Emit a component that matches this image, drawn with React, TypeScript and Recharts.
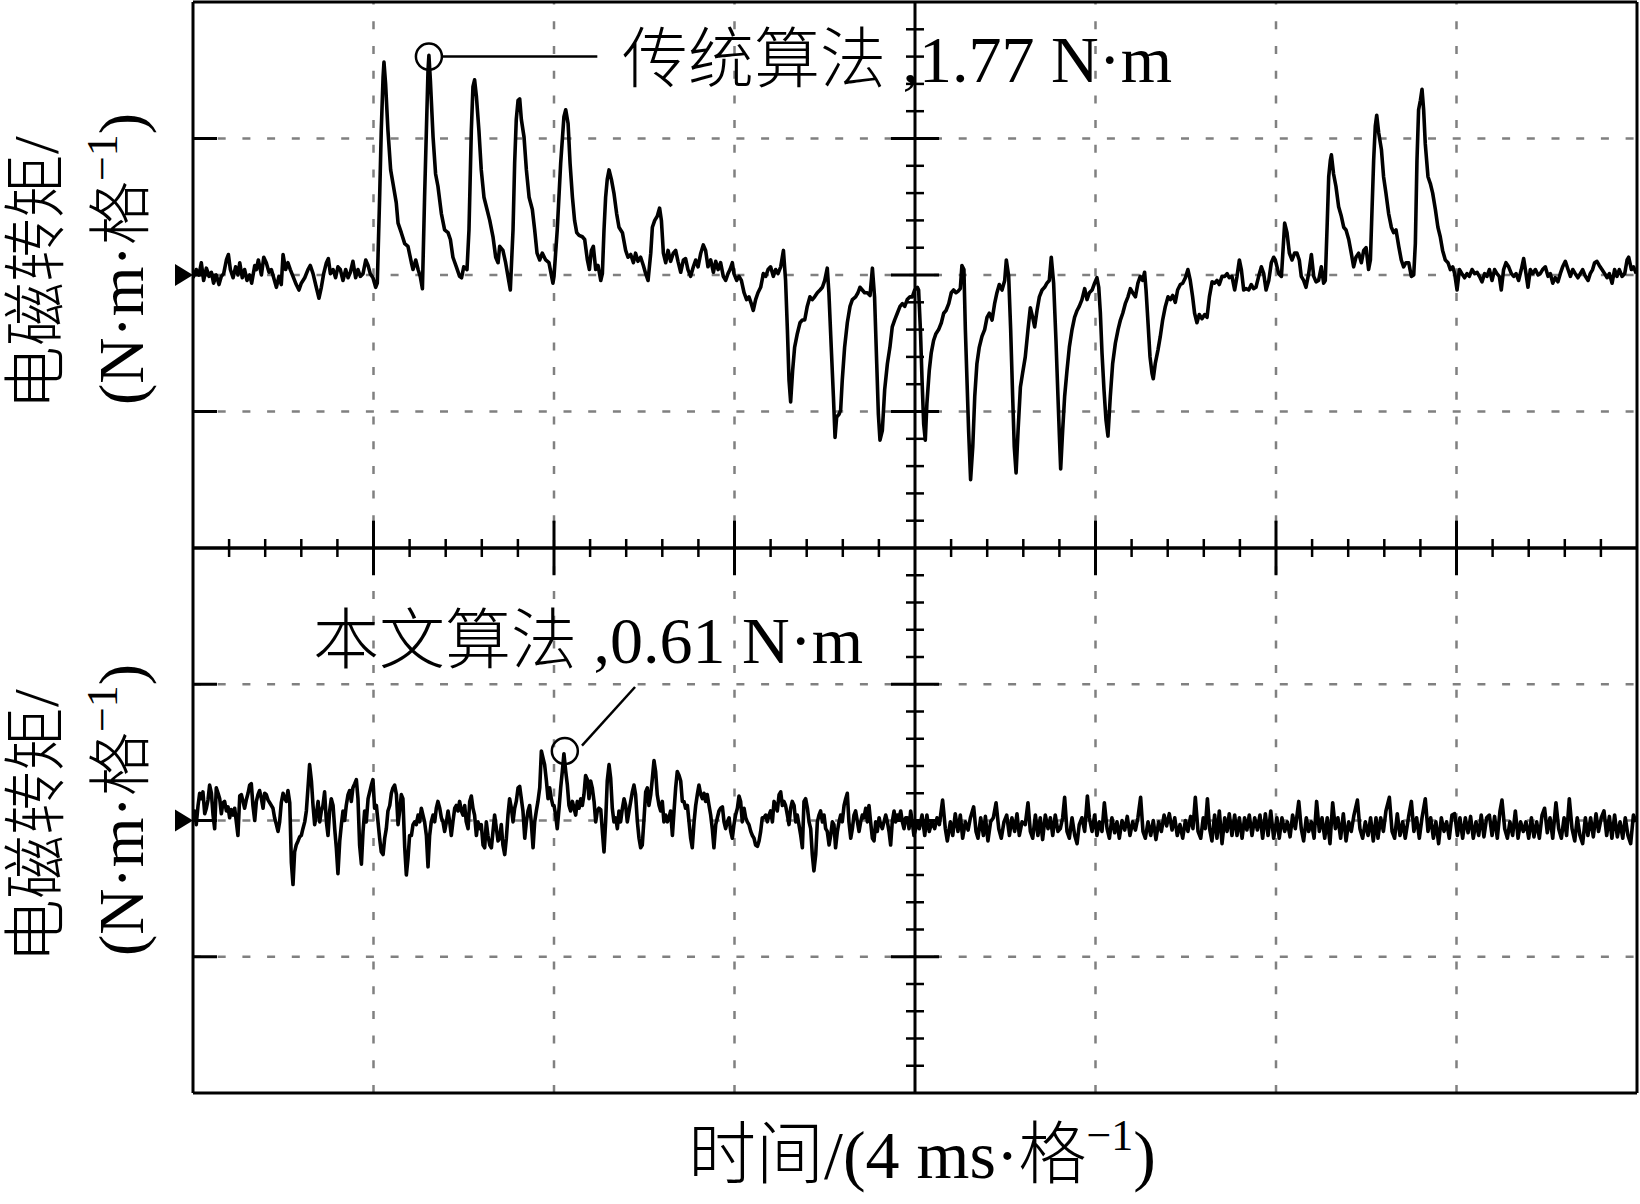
import React from 'react';
import { LineChart, Line, XAxis, YAxis, ReferenceLine, ReferenceDot } from 'recharts';

type Pt = [number, number];

// time in divisions (4 ms / div), torque in divisions
const topSeg1: Pt[] = [[0,-0.02],[0.018,0.04],[0.033,0],[0.046,0.09],[0.059,-0.04],[0.074,0.05],[0.089,-0.01],[0.102,0.02],[0.114,-0.06],[0.129,0],[0.144,-0.07],[0.157,-0.01],[0.17,0.01],[0.185,0.11],[0.196,0.15],[0.207,0.04],[0.222,-0.02],[0.236,0.06],[0.249,0],[0.259,0.09],[0.273,-0.02],[0.286,0.04],[0.299,-0.04],[0.314,0],[0.325,-0.06],[0.342,0.07],[0.351,0.04],[0.362,0.11],[0.379,0],[0.392,0.13],[0.406,0.09],[0.421,0.02],[0.434,0.04],[0.447,-0.02],[0.462,-0.09],[0.476,-0.01],[0.489,-0.07],[0.499,0.15],[0.513,0.04],[0.526,0.09],[0.539,0.04],[0.554,-0.01],[0.572,-0.07],[0.587,-0.11],[0.6,-0.06],[0.619,-0.02],[0.637,0.04],[0.65,0.07],[0.665,0.01],[0.683,-0.09],[0.698,-0.17],[0.711,-0.09],[0.724,0.01],[0.739,0.09],[0.75,0.12],[0.761,0.01],[0.776,0.04],[0.79,-0.02],[0.803,0.06],[0.816,0.04],[0.831,-0.04],[0.846,0.04],[0.859,-0.02],[0.872,0.02],[0.886,0.1],[0.901,-0.02],[0.914,0.04],[0.927,-0.01],[0.942,0.01],[0.957,0.11],[0.97,0.07],[0.982,0.01],[0.997,-0.02],[1.012,-0.09],[1.021,-0.06],[1.034,0.57],[1.043,1.06],[1.053,1.45],[1.058,1.56],[1.067,1.4],[1.08,1.06],[1.095,0.77],[1.108,0.67],[1.126,0.53],[1.136,0.38],[1.154,0.31],[1.173,0.23],[1.191,0.21],[1.21,0.09],[1.219,0.04],[1.234,0.11],[1.247,0.04],[1.259,-0.01],[1.271,-0.1],[1.283,0.57],[1.293,1.06],[1.302,1.5],[1.307,1.61],[1.315,1.43],[1.33,1.01],[1.344,0.74],[1.357,0.65],[1.376,0.45],[1.394,0.33],[1.413,0.31],[1.426,0.26],[1.44,0.13],[1.459,0.06],[1.477,-0.01],[1.488,-0.02],[1.5,0.06],[1.518,0.04],[1.529,0.33],[1.542,1.06],[1.551,1.38],[1.56,1.43],[1.57,1.31],[1.584,1.06],[1.597,0.77],[1.612,0.57],[1.629,0.48],[1.644,0.4],[1.662,0.28],[1.677,0.13],[1.69,0.09],[1.699,0.21],[1.717,0.18],[1.732,0.09],[1.745,-0.01],[1.758,-0.11],[1.773,0.33],[1.782,0.82],[1.791,1.14],[1.801,1.28],[1.81,1.29],[1.819,1.14],[1.834,1.01],[1.847,0.77],[1.862,0.57],[1.88,0.48],[1.893,0.33],[1.906,0.16],[1.921,0.11],[1.935,0.16],[1.954,0.11],[1.972,0.09],[1.994,-0.06]];

const topSeg2: Pt[] = [[2,-0.01],[2.018,0.33],[2.037,0.82],[2.055,1.16],[2.065,1.21],[2.078,1.11],[2.089,0.82],[2.102,0.57],[2.114,0.4],[2.126,0.31],[2.139,0.29],[2.157,0.28],[2.17,0.26],[2.185,0.11],[2.196,0.04],[2.207,0.18],[2.218,0.21],[2.231,0.04],[2.244,0.07],[2.259,-0.04],[2.268,0.01],[2.277,0.33],[2.286,0.57],[2.295,0.7],[2.305,0.77],[2.318,0.7],[2.332,0.6],[2.347,0.45],[2.36,0.35],[2.379,0.31],[2.397,0.18],[2.41,0.13],[2.425,0.15],[2.44,0.09],[2.452,0.16],[2.465,0.1],[2.48,0.13],[2.495,0.07],[2.508,0.01],[2.521,-0.04],[2.536,0.16],[2.545,0.35],[2.558,0.4],[2.572,0.43],[2.585,0.49],[2.595,0.4],[2.606,0.16],[2.619,0.09],[2.632,0.18],[2.646,0.1],[2.661,0.16],[2.674,0.18],[2.687,0.1],[2.702,0.02],[2.717,0.11],[2.729,0.12],[2.742,0.04],[2.757,-0.01],[2.772,0.06],[2.785,0.11],[2.798,0.06],[2.813,0.16],[2.827,0.22],[2.84,0.18],[2.853,0.06],[2.868,0.11],[2.883,0.02],[2.896,0.1],[2.909,0.04],[2.923,0.09],[2.938,-0.01],[2.951,-0.04],[2.964,0.01],[2.975,0.04],[2.988,0.09],[2.997,0.01],[3.012,-0.04],[3.025,-0.01],[3.038,-0.04],[3.053,-0.13],[3.067,-0.18],[3.08,-0.16],[3.093,-0.21],[3.104,-0.26],[3.117,-0.18],[3.13,-0.13],[3.145,-0.09],[3.16,0.01],[3.173,-0.01],[3.186,0.04],[3.2,0.06],[3.215,-0.01],[3.228,0.04],[3.241,0.01],[3.256,0.06],[3.271,0.18],[3.283,-0.04],[3.293,-0.4],[3.302,-0.77],[3.311,-0.93],[3.322,-0.7],[3.333,-0.53],[3.348,-0.43],[3.363,-0.35],[3.376,-0.33],[3.389,-0.33],[3.403,-0.23],[3.418,-0.16],[3.431,-0.18],[3.444,-0.16],[3.459,-0.13],[3.474,-0.11],[3.487,-0.09],[3.5,-0.04],[3.514,0.05],[3.523,-0.13],[3.536,-0.53],[3.548,-0.89],[3.557,-1.19],[3.566,-1.04],[3.579,-1.02],[3.588,-0.99],[3.597,-0.77],[3.61,-0.53],[3.625,-0.35],[3.64,-0.23],[3.653,-0.18],[3.671,-0.16],[3.684,-0.13],[3.695,-0.09],[3.708,-0.11],[3.721,-0.13],[3.736,-0.13],[3.751,-0.15],[3.764,0.05],[3.776,-0.16],[3.788,-0.65],[3.797,-1.02],[3.806,-1.21],[3.819,-1.14],[3.832,-0.84],[3.847,-0.65],[3.861,-0.53],[3.874,-0.38],[3.887,-0.33],[3.902,-0.28],[3.917,-0.23],[3.93,-0.21],[3.943,-0.23],[3.957,-0.18],[3.972,-0.16],[3.985,-0.16],[3.998,-0.11],[4.013,-0.09]];

const topSeg3: Pt[] = [[4.02,-0.11],[4.03,-0.4],[4.039,-0.77],[4.048,-1.09],[4.057,-1.21],[4.066,-0.94],[4.079,-0.7],[4.09,-0.57],[4.103,-0.48],[4.116,-0.43],[4.131,-0.4],[4.146,-0.35],[4.159,-0.28],[4.172,-0.26],[4.187,-0.21],[4.201,-0.13],[4.214,-0.11],[4.227,-0.13],[4.238,-0.12],[4.251,-0.1],[4.26,0.07],[4.271,0.04],[4.279,-0.4],[4.288,-0.77],[4.297,-1.14],[4.308,-1.5],[4.32,-1.26],[4.331,-0.89],[4.343,-0.65],[4.356,-0.53],[4.371,-0.45],[4.386,-0.4],[4.399,-0.31],[4.412,-0.28],[4.427,-0.33],[4.441,-0.21],[4.454,-0.13],[4.467,-0.07],[4.482,-0.11],[4.497,-0.04],[4.506,0.11],[4.519,-0.01],[4.53,-0.4],[4.541,-0.89],[4.55,-1.26],[4.56,-1.45],[4.571,-1.14],[4.584,-0.82],[4.596,-0.72],[4.611,-0.6],[4.626,-0.4],[4.639,-0.24],[4.652,-0.31],[4.663,-0.38],[4.676,-0.26],[4.689,-0.16],[4.704,-0.11],[4.718,-0.09],[4.731,-0.06],[4.744,-0.04],[4.755,0.13],[4.768,-0.06],[4.781,-0.48],[4.792,-0.89],[4.8,-1.18],[4.807,-1.42],[4.818,-1.14],[4.829,-0.89],[4.842,-0.7],[4.855,-0.53],[4.87,-0.4],[4.884,-0.31],[4.898,-0.26],[4.91,-0.23],[4.925,-0.18],[4.94,-0.1],[4.953,-0.18],[4.966,-0.13],[4.981,-0.11],[4.995,-0.06],[5.008,-0.02],[5.018,-0.09],[5.027,-0.28],[5.036,-0.57],[5.047,-0.84],[5.058,-1.06],[5.069,-1.18],[5.082,-0.89],[5.095,-0.65],[5.11,-0.5],[5.125,-0.4],[5.138,-0.33],[5.151,-0.28],[5.165,-0.21],[5.18,-0.16],[5.193,-0.1],[5.206,-0.13],[5.221,-0.16],[5.235,-0.06],[5.248,-0.01],[5.261,-0.04],[5.272,0.02],[5.28,-0.11],[5.291,-0.35],[5.302,-0.6],[5.313,-0.72],[5.32,-0.76],[5.331,-0.65],[5.346,-0.55],[5.359,-0.45],[5.372,-0.33],[5.387,-0.23],[5.402,-0.16],[5.415,-0.18],[5.428,-0.15],[5.442,-0.2],[5.455,-0.11],[5.47,-0.07],[5.483,-0.06],[5.498,-0.02],[5.512,0.04],[5.525,-0.04],[5.538,-0.16],[5.549,-0.28],[5.562,-0.35],[5.575,-0.29],[5.59,-0.32],[5.605,-0.29],[5.618,-0.31],[5.631,-0.16],[5.646,-0.05],[5.66,-0.06],[5.673,-0.04],[5.686,-0.07],[5.701,-0.01],[5.716,-0.01],[5.729,0.01],[5.741,-0.02],[5.756,-0.01],[5.771,-0.11],[5.784,-0.01],[5.797,0.11],[5.808,0.04],[5.821,-0.11],[5.834,-0.1],[5.849,-0.11],[5.863,-0.07],[5.876,-0.1],[5.889,-0.09],[5.904,-0.01],[5.919,0.06],[5.932,0.01],[5.945,-0.11],[5.96,-0.04],[5.974,0.09],[5.987,0.13]];

const topSeg4: Pt[] = [[5.996,0.11],[6.015,0.01],[6.03,-0.01],[6.048,0.38],[6.061,0.31],[6.074,0.16],[6.089,0.11],[6.103,0.16],[6.116,0.16],[6.129,0.11],[6.14,-0.01],[6.153,-0.04],[6.166,-0.09],[6.181,0.01],[6.196,0.15],[6.209,-0.01],[6.222,-0.05],[6.236,-0.04],[6.251,0.06],[6.264,-0.06],[6.273,-0.04],[6.283,0.35],[6.292,0.72],[6.301,0.84],[6.307,0.88],[6.319,0.74],[6.332,0.65],[6.347,0.5],[6.362,0.43],[6.375,0.35],[6.388,0.33],[6.403,0.26],[6.417,0.16],[6.43,0.06],[6.443,0.13],[6.458,0.16],[6.473,0.09],[6.486,0.18],[6.499,0.2],[6.513,0.04],[6.523,0.11],[6.532,0.48],[6.541,0.84],[6.55,1.09],[6.558,1.17],[6.569,1.04],[6.584,0.92],[6.596,0.72],[6.609,0.6],[6.624,0.45],[6.639,0.35],[6.652,0.31],[6.665,0.33],[6.68,0.21],[6.694,0.11],[6.707,0.06],[6.72,0.09],[6.735,0.09],[6.75,-0.01],[6.763,0],[6.772,0.23],[6.781,0.84],[6.79,1.21],[6.8,1.28],[6.809,1.36],[6.818,1.21],[6.827,0.96],[6.842,0.72],[6.855,0.67],[6.868,0.6],[6.883,0.48],[6.897,0.35],[6.91,0.28],[6.923,0.18],[6.938,0.11],[6.953,0.09],[6.966,0.04],[6.979,0.06],[6.99,0.01],[7.003,-0.11],[7.016,0.04],[7.03,0.01],[7.045,-0.02],[7.058,0.01],[7.071,-0.01],[7.086,0.04],[7.101,0.01],[7.114,0.02],[7.127,-0.01],[7.141,-0.05],[7.156,0.01],[7.169,-0.01],[7.182,0.04],[7.197,-0.04],[7.211,0.04],[7.224,0.01],[7.237,-0.01],[7.248,-0.11],[7.261,0.04],[7.274,0.09],[7.289,0.06],[7.304,0.01],[7.317,-0.01],[7.33,0.01],[7.344,-0.04],[7.359,0.04],[7.372,0.12],[7.385,0.01],[7.396,-0.09],[7.409,0.04],[7.422,0.01],[7.437,0.04],[7.452,0],[7.464,0.01],[7.477,0.04],[7.492,0.06],[7.507,-0.01],[7.52,0.01],[7.533,-0.06],[7.547,-0.02],[7.562,-0.05],[7.575,0.01],[7.588,0.06],[7.603,0.1],[7.618,0.04],[7.631,-0.01],[7.644,0.04],[7.658,0.01],[7.673,-0.02],[7.686,0.01],[7.699,0.04],[7.714,-0.01],[7.729,-0.04],[7.741,0.01],[7.754,0.04],[7.765,0.09],[7.778,0.1],[7.791,0.07],[7.806,0.04],[7.821,0.01],[7.834,-0.02],[7.847,0.01],[7.862,-0.06],[7.876,0.04],[7.889,-0.01],[7.902,0.04],[7.917,-0.01],[7.932,0.01],[7.945,0.11],[7.954,0.13],[7.969,0.04],[7.981,0.06],[7.996,0.01]];

const botSeg1: Pt[] = [[0,-0.01],[0.009,0.07],[0.018,-0.03],[0.028,0.11],[0.037,0.2],[0.046,0.16],[0.055,0.21],[0.065,0.05],[0.074,0.09],[0.083,0.15],[0.092,0.26],[0.102,0.2],[0.111,0.04],[0.12,-0.06],[0.129,0.24],[0.139,0.2],[0.148,0.16],[0.157,0.05],[0.166,0.13],[0.175,0.14],[0.185,0.07],[0.194,0.1],[0.203,0.02],[0.212,0.08],[0.222,0.04],[0.231,0.09],[0.24,-0.01],[0.249,-0.11],[0.259,0.18],[0.268,0.19],[0.277,0.14],[0.286,0.09],[0.295,0.15],[0.305,0.2],[0.314,0.26],[0.323,0.27],[0.332,0.11],[0.342,0],[0.351,0.14],[0.36,0.19],[0.369,0.22],[0.379,0.16],[0.388,0.09],[0.397,0.2],[0.406,0.19],[0.416,0.15],[0.425,0.13],[0.434,0.11],[0.443,0.09],[0.452,0.02],[0.462,-0.03],[0.471,-0.08],[0.48,-0.01],[0.489,0.13],[0.499,0.2],[0.508,0.16],[0.517,0.14],[0.526,0.22],[0.536,0.13],[0.545,-0.31],[0.554,-0.47],[0.563,-0.23],[0.572,-0.18],[0.582,-0.15],[0.591,-0.12],[0.6,-0.11],[0.609,-0.06],[0.619,-0.01],[0.628,0.07],[0.637,0.24],[0.646,0.41],[0.656,0.29],[0.665,0.11],[0.674,-0.03],[0.683,0.04],[0.693,0.14],[0.702,-0.01],[0.711,0.07],[0.72,0.11],[0.729,0.21],[0.739,-0.01],[0.748,-0.11],[0.757,0.07],[0.766,0.16],[0.776,0.11],[0.785,-0.06],[0.794,-0.2],[0.803,-0.39],[0.813,-0.15],[0.822,-0.03],[0.831,0.07],[0.84,0],[0.849,0.11],[0.859,0.19],[0.868,0.22],[0.877,0.14],[0.886,0.24],[0.896,0.27],[0.905,0.3],[0.914,0.16],[0.923,-0.18],[0.933,-0.32],[0.942,-0.08],[0.951,0.07],[0.96,-0.01],[0.97,0.16],[0.979,0.21],[0.988,0.26],[0.997,0.3],[1.006,0.09],[1.016,0.11],[1.025,-0.01],[1.034,-0.13],[1.043,-0.23],[1.053,-0.25],[1.062,-0.13],[1.071,-0.06],[1.08,0.07],[1.09,0.11],[1.099,0.2],[1.108,0.24],[1.117,0.26],[1.127,0.19],[1.136,-0.03],[1.145,0.07],[1.154,0.19],[1.163,0.16],[1.173,-0.2],[1.182,-0.4],[1.191,-0.28],[1.2,-0.11],[1.21,-0.11],[1.219,-0.03],[1.228,-0.01],[1.237,-0.03],[1.247,0.04],[1.256,-0.01],[1.265,0.09],[1.274,0.04],[1.283,-0.01],[1.293,-0.11],[1.302,-0.34],[1.311,-0.11],[1.32,-0.01],[1.33,0.04],[1.339,-0.01],[1.348,0.09],[1.357,0.14],[1.367,0.09],[1.376,0.02],[1.385,-0.01],[1.394,-0.08],[1.404,-0.01],[1.413,0.07],[1.422,-0.01],[1.431,-0.11],[1.44,-0.01],[1.45,0.09],[1.459,0.11],[1.468,0.07],[1.477,0.14],[1.487,0.07],[1.496,0.04],[1.505,0.11],[1.514,-0.01],[1.524,-0.06],[1.533,0.14],[1.542,0.18],[1.551,0.09],[1.56,0.04],[1.57,-0.11],[1.579,-0.01],[1.588,-0.06],[1.597,-0.03],[1.607,-0.18],[1.616,-0.2],[1.625,-0.01],[1.634,-0.11],[1.644,-0.18],[1.653,-0.2],[1.662,-0.08],[1.671,0.04],[1.681,-0.06],[1.69,-0.15],[1.699,-0.13],[1.708,-0.03],[1.717,-0.18],[1.727,-0.25],[1.736,-0.13],[1.745,0.04],[1.754,0.16],[1.764,0.09],[1.773,-0.01],[1.782,0.09],[1.791,0.14],[1.801,0.24],[1.81,0.25],[1.819,0.16],[1.828,0.07],[1.838,-0.13],[1.847,-0.01],[1.856,0.07],[1.865,0.11],[1.874,-0.01],[1.884,-0.2],[1.893,-0.01],[1.902,0.07],[1.911,0.14],[1.921,0.24],[1.93,0.51],[1.939,0.46],[1.948,0.41],[1.958,0.29],[1.967,0.16],[1.976,0.24],[1.985,0.16],[1.994,0.11]];

const botSeg2: Pt[] = [[2,0.11],[2.009,0.04],[2.018,-0.06],[2.028,0.09],[2.037,0.24],[2.046,0.36],[2.055,0.49],[2.065,0.36],[2.074,0.26],[2.083,0.11],[2.092,0.07],[2.102,0.14],[2.111,0.09],[2.12,0.04],[2.129,0.14],[2.139,0.09],[2.148,0.16],[2.157,0.11],[2.166,0.19],[2.175,0.33],[2.185,0.3],[2.194,0.16],[2.203,0.29],[2.212,0.24],[2.222,0.14],[2.231,-0.01],[2.24,0.07],[2.249,0.09],[2.259,0.08],[2.268,-0.08],[2.277,-0.23],[2.286,-0.01],[2.295,0.29],[2.305,0.41],[2.314,0.31],[2.323,0.09],[2.332,-0.01],[2.342,0.02],[2.351,-0.06],[2.36,0.07],[2.369,-0.01],[2.379,0.09],[2.388,0.16],[2.397,0.11],[2.406,-0.01],[2.416,0.07],[2.425,0.14],[2.434,0.21],[2.443,0.26],[2.452,0.19],[2.462,-0.01],[2.471,-0.13],[2.48,-0.2],[2.489,-0.18],[2.499,0.02],[2.508,0.21],[2.517,0.24],[2.526,0.11],[2.536,0.19],[2.545,0.31],[2.554,0.44],[2.563,0.36],[2.572,0.19],[2.582,0.11],[2.591,0.07],[2.6,0.14],[2.609,-0.01],[2.619,0.04],[2.628,-0.01],[2.637,0.02],[2.646,0.07],[2.656,-0.11],[2.665,0.07],[2.674,0.24],[2.683,0.36],[2.693,0.33],[2.702,0.29],[2.711,0.14],[2.72,0.14],[2.729,0.09],[2.739,0.11],[2.748,-0.01],[2.757,-0.13],[2.766,-0.2],[2.776,-0.01],[2.785,0.11],[2.794,0.19],[2.803,0.26],[2.813,0.19],[2.822,0.16],[2.831,0.2],[2.84,0.14],[2.849,0.19],[2.859,0.11],[2.868,0.04],[2.877,-0.06],[2.886,-0.2],[2.896,-0.03],[2.905,0.02],[2.914,0.07],[2.923,0.09],[2.933,0.1],[2.942,-0.01],[2.951,-0.06],[2.96,-0.01],[2.97,0.02],[2.979,-0.08],[2.988,-0.13],[2.997,-0.03],[3.006,0.04],[3.016,0.09],[3.025,0.18],[3.034,0.14],[3.043,-0.01],[3.053,0.09],[3.062,0.02],[3.071,-0.01],[3.08,-0.03],[3.09,-0.08],[3.099,-0.11],[3.108,-0.13],[3.117,-0.18],[3.127,-0.19],[3.136,-0.15],[3.145,-0.08],[3.154,0.02],[3.163,0.02],[3.173,0.04],[3.182,-0.01],[3.191,0.04],[3.2,0.07],[3.21,-0.01],[3.219,0.14],[3.228,0.11],[3.237,0.07],[3.247,0.19],[3.256,0.21],[3.265,0.11],[3.274,0.14],[3.283,0.11],[3.293,0.04],[3.302,-0.03],[3.311,0.09],[3.32,0.14],[3.33,0.11],[3.339,-0.01],[3.348,0.04],[3.357,-0.03],[3.367,-0.11],[3.376,-0.2],[3.385,0.14],[3.394,0.16],[3.404,0.09],[3.413,-0.01],[3.422,-0.06],[3.431,-0.25],[3.44,-0.37],[3.45,-0.25],[3.459,-0.01],[3.468,0.04],[3.477,0.07],[3.487,-0.01],[3.496,0.04],[3.505,-0.06],[3.514,-0.08],[3.524,-0.18],[3.533,-0.11],[3.542,-0.01],[3.551,-0.03],[3.56,-0.2],[3.57,-0.08],[3.579,-0.01],[3.588,0.04],[3.597,-0.01],[3.607,0.11],[3.616,0.16],[3.625,0.2],[3.634,-0.01],[3.644,-0.13],[3.653,-0.06],[3.662,0.04],[3.671,0.07],[3.681,-0.01],[3.69,-0.08],[3.699,-0.01],[3.708,0.04],[3.717,0.02],[3.727,0.09],[3.736,-0.01],[3.745,0.11],[3.754,-0.01],[3.764,-0.13],[3.773,-0.15],[3.782,-0.01],[3.791,-0.08],[3.801,0.02],[3.81,-0.03],[3.819,-0.06],[3.828,-0.01],[3.838,0.04],[3.847,-0.01],[3.856,-0.08],[3.865,-0.18],[3.874,-0.01],[3.884,0.07],[3.893,-0.01],[3.902,0.04],[3.911,0.02],[3.921,0.07],[3.93,-0.01],[3.939,-0.06],[3.948,0.02],[3.958,0.02],[3.967,-0.06],[3.976,0.07],[3.985,-0.01],[3.994,-0.11],[4.004,-0.06],[4.013,-0.01]];

const botSeg3: Pt[] = [[4.024,-0.06],[4.039,0.04],[4.054,-0.11],[4.066,0.04],[4.079,-0.08],[4.094,-0.01],[4.109,-0.06],[4.122,0.02],[4.135,-0.03],[4.153,0.15],[4.168,-0.06],[4.179,-0.15],[4.196,-0.01],[4.209,-0.11],[4.223,0.05],[4.238,-0.08],[4.251,0.04],[4.264,-0.13],[4.279,-0.01],[4.294,-0.07],[4.307,0.02],[4.325,0.1],[4.338,-0.08],[4.349,-0.13],[4.364,0.02],[4.379,-0.11],[4.39,0.03],[4.404,-0.15],[4.419,-0.01],[4.434,0.02],[4.449,0.13],[4.464,-0.06],[4.478,-0.13],[4.493,-0.01],[4.508,0.04],[4.523,-0.11],[4.537,0.02],[4.552,-0.08],[4.565,0.05],[4.578,-0.11],[4.593,-0.01],[4.611,-0.03],[4.626,0.13],[4.639,-0.08],[4.652,-0.13],[4.667,0.04],[4.681,-0.11],[4.694,0.02],[4.707,-0.14],[4.722,0.04],[4.737,-0.06],[4.75,0.02],[4.763,-0.11],[4.777,0.04],[4.792,-0.08],[4.805,-0.06],[4.818,0.02],[4.829,0.17],[4.842,-0.08],[4.855,-0.13],[4.87,0.02],[4.885,-0.11],[4.898,-0.17],[4.91,-0.03],[4.925,0.02],[4.94,-0.08],[4.955,0.18],[4.966,0.02],[4.981,-0.08],[4.995,0.04],[5.008,-0.11],[5.021,-0.01],[5.036,-0.08],[5.049,0.13],[5.064,-0.06],[5.077,-0.13],[5.091,0.02],[5.106,-0.09],[5.119,-0.01],[5.132,-0.13],[5.147,0],[5.162,-0.07],[5.176,0.03],[5.191,-0.11],[5.206,-0.01],[5.221,-0.07],[5.235,0.02],[5.25,0.17],[5.263,-0.08],[5.276,-0.13],[5.291,-0.01],[5.306,-0.11],[5.32,0],[5.335,-0.14],[5.35,-0.01],[5.365,-0.08],[5.38,0.04],[5.394,-0.04],[5.409,0.05],[5.424,-0.07],[5.439,0.02],[5.453,-0.11],[5.468,-0.03],[5.483,-0.13],[5.498,0],[5.512,-0.08],[5.527,0.03],[5.54,-0.06],[5.553,0.17],[5.568,-0.08],[5.583,-0.13],[5.597,0.02],[5.608,-0.06],[5.62,0.16],[5.632,-0.06],[5.645,-0.15],[5.66,0.04],[5.673,-0.13],[5.686,0.07],[5.701,-0.17],[5.716,0.02],[5.729,-0.08],[5.741,0.05],[5.756,-0.11],[5.771,0.04],[5.784,-0.11],[5.797,0.02],[5.812,-0.13],[5.826,0.02],[5.839,-0.07],[5.852,0.04],[5.867,-0.11],[5.882,0.02],[5.897,-0.07],[5.911,0.04],[5.926,-0.13],[5.941,0.05],[5.956,-0.11],[5.971,0.07],[5.987,-0.13]];

const botSeg4: Pt[] = [[6.005,0.02],[6.018,-0.13],[6.033,0.02],[6.048,-0.08],[6.063,-0.01],[6.078,-0.12],[6.092,0.04],[6.107,-0.06],[6.126,0.14],[6.14,-0.06],[6.153,-0.15],[6.168,0.02],[6.181,-0.08],[6.196,-0.01],[6.211,-0.13],[6.225,0.14],[6.24,-0.08],[6.255,0.02],[6.27,-0.13],[6.284,0.02],[6.299,-0.17],[6.314,0.13],[6.329,-0.06],[6.343,0.02],[6.358,-0.13],[6.373,0.05],[6.388,-0.15],[6.403,-0.01],[6.417,-0.08],[6.432,0.04],[6.451,0.15],[6.465,-0.06],[6.48,-0.13],[6.495,-0.01],[6.51,-0.11],[6.524,0.02],[6.539,-0.15],[6.554,0.02],[6.565,-0.13],[6.58,0.02],[6.595,-0.08],[6.609,0.07],[6.628,0.17],[6.643,-0.08],[6.657,-0.13],[6.672,0.05],[6.687,-0.11],[6.702,-0.01],[6.716,-0.13],[6.735,0.03],[6.75,0.14],[6.764,-0.08],[6.779,0.02],[6.794,-0.13],[6.809,0.02],[6.827,0.16],[6.842,-0.08],[6.857,0.02],[6.872,-0.13],[6.886,-0.01],[6.901,-0.17],[6.916,0.02],[6.931,-0.08],[6.945,-0.01],[6.96,-0.13],[6.975,0.04],[6.99,0.05],[7.005,-0.11],[7.019,0.02],[7.034,-0.13],[7.049,0.02],[7.064,-0.09],[7.078,0.03],[7.093,-0.13],[7.108,-0.01],[7.123,-0.11],[7.137,0.04],[7.152,-0.12],[7.167,0.02],[7.182,0.04],[7.197,-0.11],[7.211,0.03],[7.226,-0.13],[7.241,0.07],[7.252,0.15],[7.267,-0.06],[7.282,-0.13],[7.296,-0.01],[7.311,-0.11],[7.326,0.07],[7.341,-0.13],[7.355,-0.01],[7.37,-0.08],[7.385,-0.01],[7.4,-0.13],[7.415,0.02],[7.429,-0.12],[7.444,-0.01],[7.459,-0.13],[7.474,0.04],[7.488,0.09],[7.503,-0.09],[7.518,0.02],[7.533,-0.13],[7.551,0.13],[7.566,-0.06],[7.581,-0.13],[7.596,0.02],[7.61,-0.11],[7.625,0.16],[7.64,-0.06],[7.655,-0.15],[7.669,0.02],[7.684,-0.11],[7.699,-0.17],[7.714,0.02],[7.728,-0.11],[7.743,0.02],[7.758,-0.12],[7.773,0.05],[7.787,-0.08],[7.802,0.02],[7.817,0.07],[7.832,-0.11],[7.847,0.03],[7.861,-0.13],[7.876,0.04],[7.891,-0.12],[7.906,-0.01],[7.921,-0.13],[7.935,0.02],[7.95,-0.11],[7.965,-0.17],[7.98,0.04],[7.996,-0.01]];

const gridX = [1, 2, 3, 5, 6, 7];
const gridY = [-1, 0, 1];
const minorX = Array.from({ length: 40 }, (_, i) => +(i * 0.2).toFixed(1)).filter((v) => v > 0 && Math.abs(v - Math.round(v)) > 0.01);
const minorY = Array.from({ length: 21 }, (_, i) => +(-2 + i * 0.2).toFixed(1)).filter((v) => Math.abs(v - Math.round(v)) > 0.01);

const toRows = (segs: Pt[][]) => segs.flat().map(([t, v]) => ({ t, v }));
const topData = toRows([topSeg1, topSeg2, topSeg3, topSeg4]);
const botData = toRows([botSeg1, botSeg2, botSeg3, botSeg4]);

const FONT = "'Liberation Serif', 'Noto Sans CJK SC', serif";
const GRID = '#808080';

const ArrowTick = (props: any) => {
  const { x, y } = props;
  return <polygon points={`${x - 18},${y - 11} ${x},${y} ${x - 18},${y + 11}`} fill="#000" />;
};

const decorations = (isTop: boolean) => {
  const edge = isTop ? -2 : 2;
  const dir = isTop ? 1 : -1;
  const els: React.ReactNode[] = [];
  gridX.forEach((x) =>
    els.push(<ReferenceLine key={`gx${x}`} x={x} stroke={GRID} strokeWidth={2.5} strokeDasharray="8 16.7" ifOverflow="visible" />)
  );
  gridY.forEach((y) =>
    els.push(<ReferenceLine key={`gy${y}`} y={y} stroke={GRID} strokeWidth={2.5} strokeDasharray="8 16.7" ifOverflow="visible" />)
  );
  els.push(<ReferenceLine key="cx" x={4} stroke="#000" strokeWidth={3} ifOverflow="visible" />);
  els.push(<ReferenceLine key="fl" x={0} stroke="#000" strokeWidth={3} ifOverflow="visible" />);
  els.push(<ReferenceLine key="fr" x={8} stroke="#000" strokeWidth={3} ifOverflow="visible" />);
  els.push(<ReferenceLine key="ft" y={2} stroke="#000" strokeWidth={3} ifOverflow="visible" />);
  els.push(<ReferenceLine key="fb" y={-2} stroke="#000" strokeWidth={3} ifOverflow="visible" />);
  minorY.forEach((y) =>
    els.push(
      <ReferenceLine key={`my${y}`} segment={[{ x: 3.95, y }, { x: 4.05, y }]} stroke="#000" strokeWidth={2.5} ifOverflow="visible" />
    )
  );
  gridY.forEach((y) => {
    els.push(
      <ReferenceLine key={`My${y}`} segment={[{ x: 3.867, y }, { x: 4.133, y }]} stroke="#000" strokeWidth={3} ifOverflow="visible" />
    );
    els.push(
      <ReferenceLine key={`Ly${y}`} segment={[{ x: 0, y }, { x: 0.133, y }]} stroke="#000" strokeWidth={3} ifOverflow="visible" />
    );
  });
  minorX.forEach((x) =>
    els.push(
      <ReferenceLine key={`mx${x}`} segment={[{ x, y: edge }, { x, y: edge + dir * 0.066 }]} stroke="#000" strokeWidth={2.5} ifOverflow="visible" />
    )
  );
  gridX.forEach((x) =>
    els.push(
      <ReferenceLine key={`Mx${x}`} segment={[{ x, y: edge }, { x, y: edge + dir * 0.2 }]} stroke="#000" strokeWidth={3} ifOverflow="visible" />
    )
  );
  return els;
};

const Panel = ({ data, isTop, top, height }: { data: { t: number; v: number }[]; isTop: boolean; top: number; height: number }) => (
  <div style={{ position: 'absolute', left: 0, top, width: 1640, height }}>
    <LineChart width={1640} height={height} data={data} margin={{ top: 2, right: 3, bottom: 2, left: 0 }}>
      <XAxis dataKey="t" type="number" domain={[0, 8]} hide allowDataOverflow />
      <YAxis
        type="number"
        domain={[-2, 2]}
        width={193}
        ticks={[0]}
        interval={0}
        axisLine={false}
        tickLine={false}
        tickSize={0}
        tickMargin={0}
        tick={<ArrowTick />}
        allowDataOverflow
      />
      {decorations(isTop)}
      {isTop ? (
        <ReferenceDot x={1.307} y={1.6} r={13} fill="none" stroke="#000" strokeWidth={2.5} ifOverflow="visible" />
      ) : (
        <ReferenceDot x={2.06} y={0.51} r={13} fill="none" stroke="#000" strokeWidth={2.5} ifOverflow="visible" />
      )}
      {isTop ? (
        <ReferenceLine segment={[{ x: 1.38, y: 1.6 }, { x: 2.24, y: 1.6 }]} stroke="#000" strokeWidth={2.5} ifOverflow="visible" />
      ) : (
        <ReferenceLine segment={[{ x: 2.155, y: 0.55 }, { x: 2.449, y: 0.98 }]} stroke="#000" strokeWidth={2.5} ifOverflow="visible" />
      )}
      <Line
        dataKey="v"
        type="linear"
        dot={false}
        stroke="#000"
        strokeWidth={3.6}
        strokeLinejoin="round"
        isAnimationActive={false}
      />
    </LineChart>
  </div>
);

export default function App() {
  return (
    <div style={{ position: 'absolute', left: 0, top: 0, width: 1640, height: 1204, background: '#fff', overflow: 'hidden' }}>
      <Panel data={topData} isTop top={0} height={550} />
      <Panel data={botData} isTop={false} top={546} height={549} />
      <svg width={1640} height={1204} style={{ position: 'absolute', left: 0, top: 0, pointerEvents: 'none' }} fontFamily={FONT} fontWeight={300}>
        <text transform="translate(58,273) rotate(-90)" textAnchor="middle" fontSize={64} fill="#000">电磁转矩/</text>
        <text transform="translate(143,259) rotate(-90)" textAnchor="middle" fontSize={64} fill="#000">
          (N·m·格<tspan fontSize={44} dy={-26}>−1</tspan><tspan dy={26}>)</tspan>
        </text>
        <text transform="translate(58,826) rotate(-90)" textAnchor="middle" fontSize={64} fill="#000">电磁转矩/</text>
        <text transform="translate(143,810) rotate(-90)" textAnchor="middle" fontSize={64} fill="#000">
          (N·m·格<tspan fontSize={44} dy={-26}>−1</tspan><tspan dy={26}>)</tspan>
        </text>
        <text x={922} y={1178} textAnchor="middle" fontSize={68} fill="#000">
          时间/(4 ms·格<tspan fontSize={44} dy={-28}>−1</tspan><tspan dy={28}>)</tspan>
        </text>
        <text x={622} y={82} fontSize={66} fill="#000">传统算法 ,1.77 N·m</text>
        <text x={313} y={663} fontSize={66} fill="#000">本文算法 ,0.61 N·m</text>
      </svg>
    </div>
  );
}
